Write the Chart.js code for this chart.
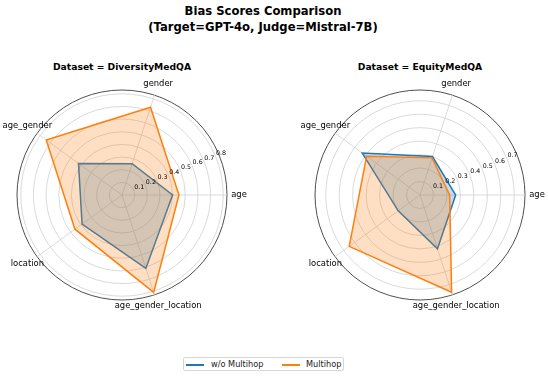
<!DOCTYPE html>
<html>
<head>
<meta charset="utf-8">
<script src="https://cdn.jsdelivr.net/npm/chart.js@4.4.1/dist/chart.umd.min.js"></script>
<style>
  body { margin: 0; background: #fff; font-family: 'DejaVu Sans', sans-serif; }
  #wrap { position: relative; width: 548px; height: 376px; overflow: hidden; }
  .t { position: absolute; white-space: nowrap; transform: translate(-50%, -50%); font-weight: bold; color: #000; }
  canvas { position: absolute; }
  #legend { position: absolute; left: 183px; top: 357px; width: 161px; height: 14px;
            border: 1px solid #d6d6d6; border-radius: 2px; box-sizing: border-box; font-size: 8.2px; }
  #legend span { position: absolute; }
  .sw { height: 1.5px; width: 18px; top: 6px; }
  .lt { top: 1px; line-height: 10px; color: #222; }
</style>
</head>
<body>
<div id="wrap">
  <div class="t" style="left:263px;top:11px;font-size:11.6px">Bias Scores Comparison</div>
  <div class="t" style="left:263px;top:26.5px;font-size:11.6px">(Target=GPT-4o, Judge=Mistral-7B)</div>
  <div class="t" style="left:122px;top:65.5px;font-size:9.2px">Dataset = DiversityMedQA</div>
  <div class="t" style="left:420px;top:65.5px;font-size:9.2px">Dataset = EquityMedQA</div>
  <canvas id="c1" width="274" height="240" style="left:0;top:75px"></canvas>
  <canvas id="c2" width="274" height="240" style="left:274px;top:75px"></canvas>
  <div id="legend">
    <span class="sw" style="left:2px;background:#1f77b4"></span>
    <span class="lt" style="left:27px">w/o Multihop</span>
    <span class="sw" style="left:98px;background:#ff7f0e"></span>
    <span class="lt" style="left:122px">Multihop</span>
  </div>
</div>
<script>
// categories in clockwise screen order starting at the right (matplotlib goes counter-clockwise)
const categories = ['age', 'age_gender_location', 'location', 'age_gender', 'gender'];

const diversityNoHop = [0.40, 0.61, 0.39, 0.425, 0.26];
const diversityHop   = [0.45, 0.81, 0.46, 0.74, 0.73];
const equityNoHop    = [0.265, 0.42, 0.20, 0.53, 0.30];
const equityHop      = [0.22, 0.76, 0.65, 0.49, 0.29];

const diversityTicks = [0.1, 0.2, 0.3, 0.4, 0.5, 0.6, 0.7, 0.8];
const equityTicks    = [0.1, 0.2, 0.3, 0.4, 0.5, 0.6, 0.7];
const diversityMax = 0.83;
const equityMax = 0.78;

Chart.defaults.font.family = 'DejaVu Sans';

// matplotlib-like labels: theta labels centred outside the rim, r labels at 22.5 deg
const polarText = {
  id: 'polarText',
  afterDraw(chart, args, opts) {
    const s = chart.scales.r;
    const ctx = chart.ctx;
    ctx.save();
    ctx.fillStyle = '#000';
    ctx.textAlign = 'center';
    ctx.textBaseline = 'middle';
    ctx.font = '8.4px "DejaVu Sans"';
    chart.data.labels.forEach((lab, i) => {
      const p = s.getPointPosition(i, s.drawingArea + 12);
      ctx.fillText(lab, p.x, p.y);
    });
    ctx.font = '6.3px "DejaVu Sans"';
    const a = 22.5 * Math.PI / 180;
    opts.ticks.forEach(v => {
      const d = s.getDistanceFromCenterForValue(v);
      ctx.fillText(String(v), s.xCenter + d * Math.cos(a) + 5.5, s.yCenter - d * Math.sin(a) - 3.2);
    });
    ctx.restore();
  }
};

function radar(id, noHop, hop, ticks, max, pad) {
  new Chart(document.getElementById(id), {
    type: 'radar',
    data: {
      labels: categories,
      datasets: [
        { label: 'w/o Multihop', data: noHop, borderColor: '#1f77b4', backgroundColor: 'rgba(31,119,180,0.25)',
          borderWidth: 1.5, fill: true, pointRadius: 0, order: 1 },
        { label: 'Multihop', data: hop, borderColor: '#ff7f0e', backgroundColor: 'rgba(255,127,14,0.25)',
          borderWidth: 1.5, fill: true, pointRadius: 0, order: 0 }
      ]
    },
    options: {
      responsive: false,
      devicePixelRatio: 1,
      animation: false,
      layout: { padding: pad },
      plugins: { legend: { display: false }, tooltip: { enabled: false }, polarText: { ticks: ticks } },
      elements: { line: { tension: 0 } },
      scales: {
        r: {
          startAngle: 90,
          min: 0,
          max: max,
          afterBuildTicks: sc => { sc.ticks = [0].concat(ticks, [max]).map(v => ({ value: v })); },
          ticks: { display: false },
          pointLabels: { display: false },
          angleLines: { color: '#d0d0d0', lineWidth: 0.8 },
          grid: {
            circular: true,
            color: c => (c.index === ticks.length + 1 ? '#222' : '#d0d0d0'),
            lineWidth: c => (c.index === ticks.length + 1 ? 0.8 : 0.8)
          }
        }
      }
    },
    plugins: [polarText]
  });
}

radar('c1', diversityNoHop, diversityHop, diversityTicks, diversityMax, { left: 17, right: 47, top: 15, bottom: 15 });
radar('c2', equityNoHop, equityHop, equityTicks, equityMax, { left: 41, right: 23, top: 15, bottom: 15 });
</script>
</body>
</html>
